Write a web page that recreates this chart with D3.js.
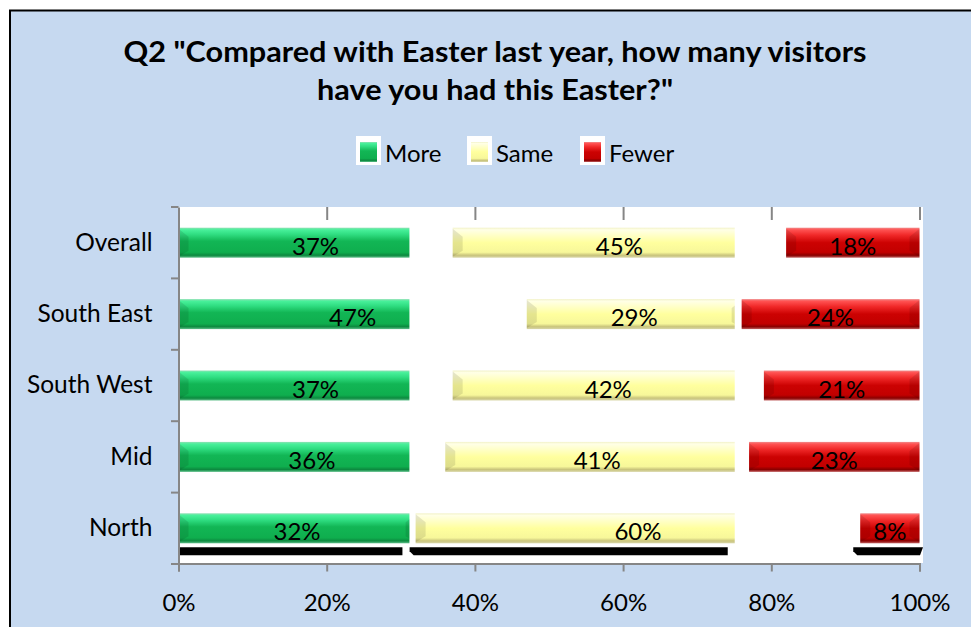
<!DOCTYPE html>
<html><head><meta charset="utf-8">
<script src="https://cdn.jsdelivr.net/npm/d3@7/dist/d3.min.js"></script>
<style>
  body { margin: 0; background: #fff; }
  svg { display: block; }
  text { font-family: Lato, "Open Sans", "DejaVu Sans", sans-serif; fill: #000; }
</style>
</head><body>
<script>
// Survey answers by region (percent of respondents)
const categories = ["Overall", "South East", "South West", "Mid", "North"];
const more  = [37, 47, 37, 36, 32];
const same  = [45, 29, 42, 41, 60];
const fewer = [18, 24, 21, 23, 8];
const seriesNames = ["More", "Same", "Fewer"];
const xTicks = [0, 20, 40, 60, 80, 100];
// axis value at which each series' bars are cut off when drawn
const visibleTo = [31.3, 75.2, 100];

const titleLines = ['Q2 "Compared with Easter last year, how many visitors', 'have you had this Easter?"'];

const W = 971, H = 627;
const svg = d3.select("body").append("svg").attr("width", W).attr("height", H);
const defs = svg.append("defs");

// chart frame
svg.append("rect").attr("x", 0).attr("y", 0).attr("width", W).attr("height", H).attr("fill", "#fff");
svg.append("rect").attr("x", 10).attr("y", 10.5).attr("width", W + 20).attr("height", H + 20)
  .attr("fill", "#c6d9f0").attr("stroke", "#000").attr("stroke-width", 2);

// bevelled fills
const palettes = [
  [[0, "#8fe0b4"], [0.07, "#48f09a"], [0.22, "#30de82"], [0.45, "#12b655"], [0.82, "#0fae4e"], [0.92, "#0c8a3f"], [1, "#5fbf8a"]],
  [[0, "#f2f2c8"], [0.07, "#ffffe6"], [0.25, "#ffffc8"], [0.5, "#ffff9e"], [0.82, "#f7f79a"], [0.92, "#c9c47c"], [1, "#d8d6a8"]],
  [[0, "#f08a8a"], [0.07, "#ff5252"], [0.25, "#f02828"], [0.5, "#cc0202"], [0.82, "#c20000"], [0.92, "#8a0000"], [1, "#c06060"]]
];
palettes.forEach((stops, i) => {
  const g = defs.append("linearGradient").attr("id", "grad" + i)
    .attr("x1", 0).attr("y1", 0).attr("x2", 0).attr("y2", 1);
  stops.forEach(([o, c]) => g.append("stop").attr("offset", o).attr("stop-color", c));
});

// scales
const x = d3.scaleLinear().domain([0, 100]).range([178.5, 919.5]);
const plotTop = 207, plotBottom = 564;
const y = d3.scaleBand().domain(categories).range([plotTop, plotBottom])
  .paddingInner(0.58).paddingOuter(0.29);

// plot area
svg.append("rect").attr("x", 178).attr("y", plotTop).attr("width", 745).attr("height", plotBottom - plotTop - 1)
  .attr("fill", "#fff");

// stacked layout
const rows = categories.map((c, i) => ({ cat: c, More: more[i], Same: same[i], Fewer: fewer[i] }));
const stacked = d3.stack().keys(seriesNames)(rows);

// clip each series at its cut-off
stacked.forEach((s, i) => {
  defs.append("clipPath").attr("id", "clip" + i).append("rect")
    .attr("x", x(0) - 1).attr("y", 0)
    .attr("width", x(visibleTo[i]) - x(0) + (i === 2 ? 2 : 0)).attr("height", H);
});

// shadow under the bottom row
const lastCat = categories[categories.length - 1];
const shadowDx = [[-6, -8], [-6, -8], [-7, 4]];
const sy0 = y(lastCat) + y.bandwidth() + 4, sy1 = sy0 + 8;
stacked.forEach((s, i) => {
  const d = s[s.length - 1];
  let x0 = Math.max(x(d[0]) + shadowDx[i][0], 178.5);
  let x1 = Math.min(x(Math.min(d[1], visibleTo[i])) + shadowDx[i][1], 923);
  const cut = i === 0 ? 0 : 4;
  const pts = [[x0, sy0], [x1, sy0], [x1 - (i === 2 ? 3 : 0), sy1], [x0 + cut, sy1], [x0, sy1 - cut]];
  svg.append("polygon").attr("points", pts.map(p => p.join(",")).join(" ")).attr("fill", "#000");
});

// bars
stacked.forEach((s, i) => {
  const g = svg.append("g").attr("clip-path", `url(#clip${i})`);
  const bars = g.selectAll("g.bar").data(s).join("g").attr("class", "bar");
  const bh = y.bandwidth();
  bars.append("rect")
    .attr("x", d => x(d[0]))
    .attr("y", d => y(d.data.cat))
    .attr("width", d => x(d[1]) - x(d[0]))
    .attr("height", bh)
    .attr("fill", `url(#grad${i})`);
  // end facets
  bars.append("polygon").attr("points", d => {
    const x0 = x(d[0]), y0 = y(d.data.cat), y1 = y0 + bh;
    return [[x0, y0 + 1], [x0 + 10, y0 + 9], [x0 + 10, y1 - 7], [x0, y1 - 1]].map(p => p.join(",")).join(" ");
  }).attr("fill", "#000").attr("opacity", 0.1);
  bars.append("polygon").attr("points", d => {
    const x1 = x(d[1]), y0 = y(d.data.cat), y1 = y0 + bh;
    return [[x1, y0 + 1], [x1 - 10, y0 + 9], [x1 - 10, y1 - 7], [x1, y1 - 1]].map(p => p.join(",")).join(" ");
  }).attr("fill", "#000").attr("opacity", 0.1);
});

// value labels at the centre of each segment
stacked.forEach((s, i) => {
  svg.append("g").selectAll("text").data(s).join("text")
    .attr("x", d => x((d[0] + d[1]) / 2))
    .attr("y", d => y(d.data.cat) + y.bandwidth() / 2 + 12)
    .attr("text-anchor", "middle")
    .attr("font-size", 24)
    .text(d => (d[1] - d[0]) + "%");
});

// axes
const axisColor = "#868686";
const xAxis = svg.append("g").attr("transform", `translate(0,${plotBottom - 0.5})`)
  .call(d3.axisBottom(x).tickValues(xTicks).tickFormat(d => d + "%").tickSize(8).tickPadding(22));
xAxis.select(".domain").attr("stroke", axisColor).attr("stroke-width", 2);
xAxis.selectAll(".tick line").attr("stroke", axisColor).attr("stroke-width", 2);
xAxis.selectAll(".tick text").attr("font-size", 24).attr("font-family", 'Lato, "Open Sans", sans-serif').attr("fill", "#000");

const topAxis = svg.append("g").attr("transform", `translate(0,${plotTop})`)
  .call(d3.axisTop(x).tickValues(xTicks.slice(1)).tickFormat("").tickSize(-13));
topAxis.select(".domain").remove();
topAxis.selectAll(".tick line").attr("stroke", axisColor).attr("stroke-width", 2);

const yAxis = svg.append("g").attr("transform", `translate(178.5,0)`)
  .call(d3.axisLeft(y).tickSize(0).tickPadding(26));
yAxis.select(".domain").attr("stroke", axisColor).attr("stroke-width", 2);
yAxis.selectAll(".tick text").attr("font-size", 24.5).attr("font-family", 'Lato, "Open Sans", sans-serif').attr("fill", "#000");
// category separators on the left axis
const bounds = categories.map(c => y(c) - (y.step() - y.bandwidth()) / 2).concat([plotBottom]);
svg.append("g").selectAll("line").data(bounds).join("line")
  .attr("x1", 171).attr("x2", 178.5).attr("y1", d => d).attr("y2", d => d)
  .attr("stroke", axisColor).attr("stroke-width", 2);

// title
const tw = [743, 356];
titleLines.forEach((t, i) => {
  svg.append("text").attr("x", 495).attr("y", 62 + i * 38)
    .attr("text-anchor", "middle").attr("font-size", 28).attr("font-weight", "bold")
    .attr("textLength", tw[i]).attr("lengthAdjust", "spacingAndGlyphs")
    .text(t);
});

// legend
const legendX = [356, 467, 580];
seriesNames.forEach((n, i) => {
  const g = svg.append("g").attr("transform", `translate(${legendX[i]},136)`);
  g.append("rect").attr("width", 25).attr("height", 29).attr("fill", "#fff");
  g.append("rect").attr("x", 4).attr("y", 6).attr("width", 17).attr("height", 20).attr("fill", `url(#grad${i})`);
  g.append("text").attr("x", 29).attr("y", 26).attr("font-size", 24).text(n);
});
</script>
</body></html>
